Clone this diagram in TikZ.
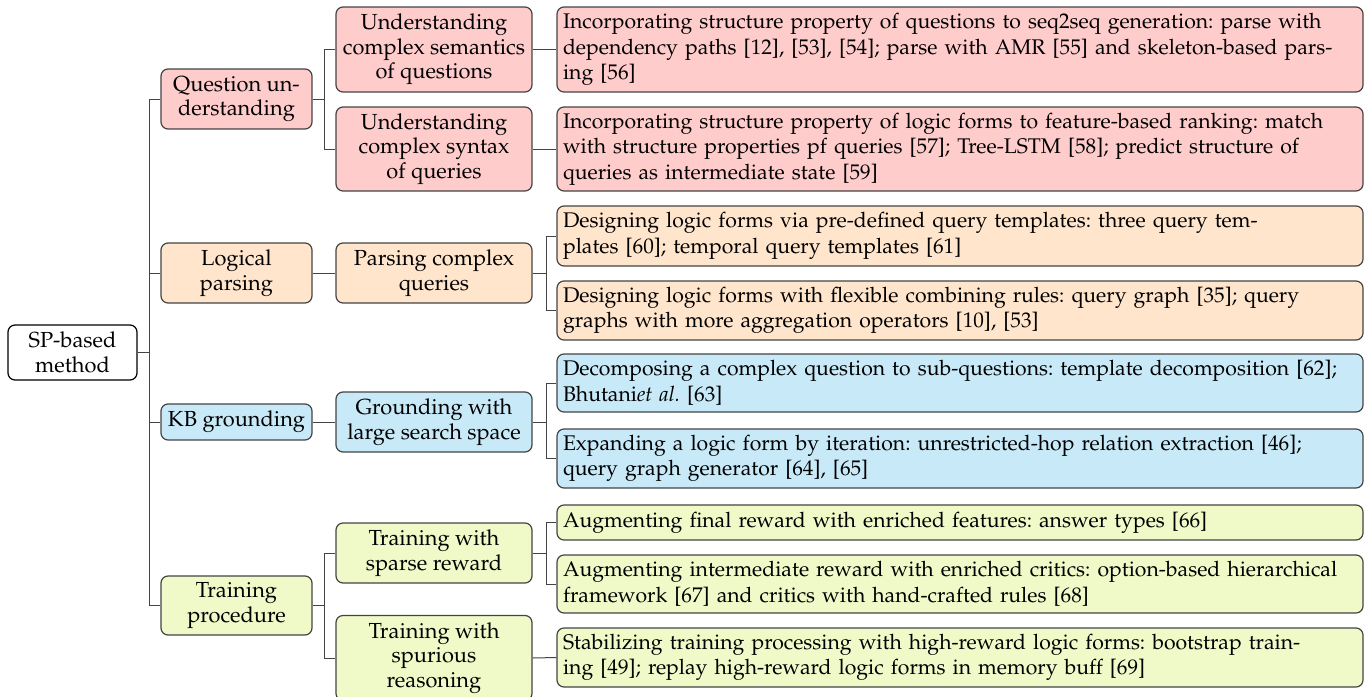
\documentclass[tikz,border=0pt]{standalone}
\usepackage[T1]{fontenc}
\usepackage{mathpazo}
\frenchspacing
\definecolor{pinkF}{HTML}{FFCCCC}
\definecolor{orangeF}{HTML}{FFE5CC}
\definecolor{blueF}{HTML}{C8E9F8}
\definecolor{greenF}{HTML}{F0F9C8}
\definecolor{edgeC}{HTML}{444444}
\tikzset{
  box/.style={draw=edgeC, line width=0.6pt, rounded corners=3.5pt, inner sep=0pt,
    font=\fontsize{10.9}{12.2}\selectfont, align=center},
  rootbox/.style={box, draw=black, fill=white, minimum width=64.5pt},
  lone/.style={box, minimum width=75.5pt},
  ltwo/.style={box, minimum width=98pt},
  leaf/.style={box, minimum width=403pt, text width=397pt, align=left,
    font=\fontsize{10.6}{12.8}\selectfont},
  conn/.style={draw=edgeC, line width=0.5pt},
}
\begin{document}
\begin{tikzpicture}[x=0.5pt,y=-0.5pt]
\useasboundingbox (0,0) rectangle (1364,696);
% root
\node[rootbox, minimum height=27.5pt] (root) at (72.5,352.5) {SP-based\\method};
% level 1
\node[lone, fill=pinkF, minimum height=30pt] (qu) at (236.5,99) {Question un-\\derstanding};
\node[lone, fill=orangeF, minimum height=30pt] (lp) at (236.5,273) {Logical\\parsing};
\node[lone, fill=blueF, minimum height=18pt] (kb) at (236.5,422) {KB grounding};
\node[lone, fill=greenF, minimum height=29.5pt] (tp) at (236.5,605.5) {Training\\procedure};
% level 2
\node[ltwo, fill=pinkF, minimum height=42.5pt] (us) at (434,49.5) {Understanding\\complex semantics\\of questions};
\node[ltwo, fill=pinkF, minimum height=42pt] (usy) at (434,149) {Understanding\\complex syntax\\of queries};
\node[ltwo, fill=orangeF, minimum height=30pt] (pcq) at (434,273) {Parsing complex\\queries};
\node[ltwo, fill=blueF, minimum height=30pt] (gls) at (434,422) {Grounding with\\large search space};
\node[ltwo, fill=greenF, minimum height=30pt] (tsr) at (434,553) {Training with\\sparse reward};
\node[ltwo, fill=greenF, minimum height=42.5pt] (tsp) at (434,658) {Training with\\spurious\\reasoning};
% leaves
\node[leaf, fill=pinkF, minimum height=42.5pt] (l1) at (960,49.5) {Incorporating structure property of questions to seq2seq generation: parse with\\dependency paths [12], [53], [54]; parse with AMR [55] and skeleton-based pars-\\ing [56]};
\node[leaf, fill=pinkF, minimum height=42pt] (l2) at (960,149) {Incorporating structure property of logic forms to feature-based ranking: match\\with structure properties pf queries [57]; Tree-LSTM [58]; predict structure of\\queries as intermediate state [59]};
\node[leaf, fill=orangeF, minimum height=30pt] (l3) at (960,236) {Designing logic forms via pre-defined query templates: three query tem-\\plates [60]; temporal query templates [61]};
\node[leaf, fill=orangeF, minimum height=29.5pt] (l4) at (960,310.5) {Designing logic forms with flexible combining rules: query graph [35]; query\\graphs with more aggregation operators [10], [53]};
\node[leaf, fill=blueF, minimum height=29pt] (l5) at (960,383) {Decomposing a complex question to sub-questions: template decomposition [62];\\Bhutani\textit{et al.} [63]};
\node[leaf, fill=blueF, minimum height=29.5pt] (l6) at (960,458.5) {Expanding a logic form by iteration: unrestricted-hop relation extraction [46];\\query graph generator [64], [65]};
\node[leaf, fill=greenF, minimum height=17.5pt] (l7) at (960,522.5) {Augmenting final reward with enriched features: answer types [66]};
\node[leaf, fill=greenF, minimum height=29pt] (l8) at (960,584) {Augmenting intermediate reward with enriched critics: option-based hierarchical\\framework [67] and critics with hand-crafted rules [68]};
\node[leaf, fill=greenF, minimum height=29.5pt] (l9) at (960,657.5) {Stabilizing training processing with high-reward logic forms: bootstrap train-\\ing [49]; replay high-reward logic forms in memory buff [69]};
% connectors
\foreach \c in {qu,lp,kb,tp} \draw[conn] (root.east) -- ++(12,0) |- (\c.west);
\foreach \c in {us,usy} \draw[conn] (qu.east) -- ++(12,0) |- (\c.west);
\draw[conn] (lp.east) -- (pcq.west);
\draw[conn] (kb.east) -- (gls.west);
\foreach \c in {tsr,tsp} \draw[conn] (tp.east) -- ++(12,0) |- (\c.west);
\draw[conn] (us.east) -- (l1.west);
\draw[conn] (usy.east) -- (l2.west);
\foreach \c in {l3,l4} \draw[conn] (pcq.east) -- ++(14,0) |- (\c.west);
\foreach \c in {l5,l6} \draw[conn] (gls.east) -- ++(14,0) |- (\c.west);
\foreach \c in {l7,l8} \draw[conn] (tsr.east) -- ++(14,0) |- (\c.west);
\draw[conn] (tsp.east) -- (l9.west);
\end{tikzpicture}
\end{document}
